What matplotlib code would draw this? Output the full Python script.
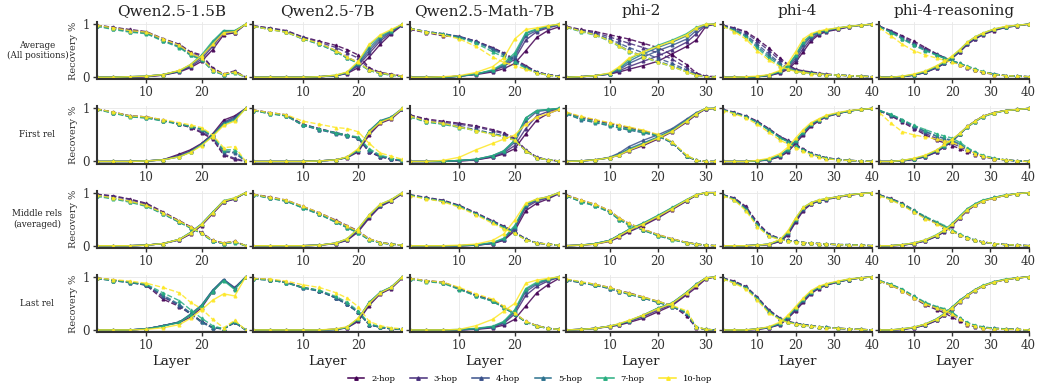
import numpy as np
import matplotlib
matplotlib.use('Agg')
import matplotlib.pyplot as plt
from matplotlib.lines import Line2D

plt.rcParams['font.family'] = ['DejaVu Serif']

MODELS = ['Qwen2.5-1.5B', 'Qwen2.5-7B', 'Qwen2.5-Math-7B', 'phi-2', 'phi-4', 'phi-4-reasoning']
ROW_LABELS = ['Average\n(All positions)', 'First rel', 'Middle rels\n(averaged)', 'Last rel']
HOPS = [2, 3, 4, 5, 7, 10]

L28 = [1, 4, 7, 10, 13, 16, 18, 20, 22, 24, 26, 28]
L32 = [1, 4, 7, 10, 12, 14, 17, 20, 23, 26, 28, 30, 32]
L40 = [1, 4, 7, 10, 13, 16, 18, 20, 22, 24, 26, 28, 31, 34, 37, 40]

# ---- Qwen2.5-1.5B ----
Q15_AVG_UP = [[0,0,0,1,4,10,18,30,52,80,84,100],
              [0,0,0,1,4,11,20,34,58,84,83,100],
              [0,0,1,2,5,12,22,38,62,86,86,100],
              [0,0,1,2,5,12,23,40,65,88,87,100],
              [0,0,1,2,5,12,24,42,68,88,88,100],
              [0,0,1,2,5,13,24,40,62,84,86,100]]
Q15_AVG_DN = [[98,94,90,86,73,62,48,42,18,6,12,0],
              [98,94,89,85,72,61,46,40,16,6,11,0],
              [97,92,87,84,70,58,44,36,14,5,10,0],
              [97,91,86,83,69,57,42,34,12,5,9,0],
              [96,90,85,82,68,56,41,33,12,4,8,0],
              [98,93,88,85,72,60,45,36,14,6,10,0]]
Q15_FIRST_UP = [[0,0,0,1,3,14,22,34,52,78,86,100],
                [0,0,0,1,3,12,20,33,50,74,84,100],
                [0,0,0,1,3,10,19,32,50,72,82,100],
                [0,0,0,1,3,9,18,32,50,72,80,100],
                [0,0,0,1,3,9,18,31,48,70,78,100],
                [0,0,0,1,3,9,17,30,47,68,76,100]]
Q15_FIRST_DN = [[99,93,86,84,78,70,64,54,42,12,4,0],
                [99,93,86,84,78,70,65,56,44,14,6,0],
                [98,92,85,83,77,71,66,60,46,18,16,0],
                [98,92,85,82,77,71,66,61,47,20,18,0],
                [98,91,84,82,76,70,66,62,48,22,22,0],
                [99,93,86,84,79,73,69,64,50,26,28,0]]
Q15_MID_UP = [[0,0,0,1,4,11,22,38,60,82,88,100],
              [0,0,0,1,4,11,23,39,61,83,88,100],
              [0,0,0,1,4,12,24,40,62,84,89,100],
              [0,0,0,1,4,12,25,41,63,84,89,100],
              [0,0,0,1,4,12,25,41,63,85,90,100],
              [0,0,0,1,4,12,24,40,62,84,90,100]]
Q15_MID_DN = [[97,94,88,80,64,47,36,25,10,5,8,0],
              [97,93,87,78,62,46,35,24,10,5,8,0],
              [95,90,84,76,61,45,34,24,9,4,7,0],
              [94,89,83,75,60,44,34,23,9,4,7,0],
              [93,88,82,74,60,44,33,23,8,4,6,0],
              [95,90,84,76,62,46,35,24,10,5,8,0]]
Q15_LAST_UP = [[0,0,0,2,8,14,24,42,72,94,78,100],
               [0,0,0,2,8,15,28,45,74,95,80,100],
               [0,0,0,2,8,15,29,46,74,95,78,100],
               [0,0,0,2,8,15,30,47,75,95,78,100],
               [0,0,0,2,7,14,28,45,72,93,76,100],
               [0,0,0,1,4,10,22,38,56,68,64,100]]
Q15_LAST_DN = [[98,94,90,84,58,44,30,16,4,2,14,0],
               [98,94,90,85,62,46,32,16,5,2,15,0],
               [97,93,89,85,64,46,30,14,4,2,14,0],
               [97,93,89,85,66,48,32,15,4,2,14,0],
               [97,93,90,86,70,55,38,22,8,2,16,0],
               [98,95,92,88,80,70,52,40,20,4,18,0]]

# ---- Qwen2.5-7B ----
Q7_AVG_UP = [[0,0,0,0,1,3,7,18,38,62,82,98],
             [0,0,0,0,1,3,8,22,45,68,84,99],
             [0,0,0,0,1,3,8,24,50,72,86,99],
             [0,0,0,0,1,3,9,26,55,75,87,100],
             [0,0,0,0,1,4,9,28,60,78,88,100],
             [0,0,0,0,1,4,10,30,62,80,90,100]]
Q7_AVG_DN = [[97,93,88,76,68,60,52,42,18,9,6,2],
             [97,92,87,75,66,56,46,36,16,8,5,2],
             [96,91,86,74,64,50,38,28,14,8,5,1],
             [96,90,85,72,62,48,36,27,13,7,4,1],
             [96,90,85,72,62,48,36,26,13,7,4,1],
             [96,90,85,73,64,50,38,28,14,8,5,2]]
Q7_FIRST_UP = [[0,0,0,0,1,3,7,18,50,72,80,98],
               [0,0,0,0,1,3,8,20,53,74,82,99],
               [0,0,0,0,1,3,8,21,56,76,83,99],
               [0,0,0,0,1,3,8,22,58,77,84,100],
               [0,0,0,0,1,3,8,22,57,76,83,100],
               [0,0,0,0,1,3,9,24,55,74,82,100]]
Q7_FIRST_DN = [[97,92,88,70,62,54,50,44,18,9,4,1],
               [97,92,87,70,61,54,49,44,18,9,4,1],
               [96,91,86,68,60,52,48,44,20,10,5,1],
               [96,90,86,68,60,53,48,45,22,10,5,2],
               [96,90,86,69,61,54,50,46,24,12,6,2],
               [97,92,88,76,70,64,62,56,34,16,10,4]]
Q7_MID_UP = [[0,0,0,0,1,4,10,26,52,74,84,98],
             [0,0,0,0,1,4,11,28,54,75,85,99],
             [0,0,0,0,1,5,12,30,56,76,86,99],
             [0,0,0,0,1,5,12,31,57,77,86,100],
             [0,0,0,0,1,5,13,32,58,78,87,100],
             [0,0,0,0,1,5,13,32,58,78,87,100]]
Q7_MID_DN = [[97,92,86,74,62,48,38,28,13,6,3,1],
             [97,91,85,73,61,46,36,26,12,6,3,1],
             [96,90,84,72,60,45,35,25,12,6,3,1],
             [96,90,84,71,59,44,34,24,11,5,3,1],
             [96,89,84,71,59,44,34,24,11,5,3,1],
             [97,91,86,74,62,47,37,27,13,6,3,1]]
Q7_LAST_UP = [[0,0,0,0,0,1,4,16,46,68,78,98],
              [0,0,0,0,0,1,4,18,48,69,79,99],
              [0,0,0,0,0,1,5,20,50,70,80,99],
              [0,0,0,0,0,1,5,21,52,71,81,100],
              [0,0,0,0,0,1,5,21,52,71,81,100],
              [0,0,0,0,0,2,6,22,50,70,80,100]]
Q7_LAST_DN = [[97,95,90,80,74,60,48,34,10,5,2,1],
              [97,95,90,80,74,61,49,34,10,5,2,1],
              [96,94,89,79,73,60,48,33,10,5,2,1],
              [96,94,89,79,73,60,48,33,10,5,2,1],
              [96,94,89,80,75,63,52,36,12,6,3,1],
              [97,96,92,85,80,70,60,44,16,8,4,2]]

# ---- Qwen2.5-Math-7B ----
QM_AVG_UP = [[0,0,0,2,5,10,16,26,50,75,88,95],
             [0,0,0,2,6,12,20,34,70,86,93,98],
             [0,0,0,2,6,12,22,38,78,88,95,99],
             [0,0,0,2,6,13,24,42,82,90,96,100],
             [0,0,0,2,6,14,26,46,84,91,96,100],
             [0,0,1,3,9,20,36,72,90,93,97,100]]
QM_AVG_DN = [[90,84,78,76,68,56,46,34,22,10,5,2],
             [92,86,82,77,68,55,45,32,20,10,5,2],
             [92,86,82,76,67,54,44,31,19,9,5,2],
             [92,86,82,76,66,52,42,30,18,9,4,1],
             [92,85,81,74,64,48,38,28,17,8,4,1],
             [92,85,80,72,58,38,28,22,15,8,4,1]]
QM_FIRST_UP = [[0,0,0,1,3,8,14,24,52,78,90,98],
               [0,0,0,1,3,9,16,30,62,86,94,99],
               [0,0,0,2,4,10,18,36,76,94,97,100],
               [0,0,0,2,4,11,20,40,82,96,98,100],
               [0,0,0,2,4,11,20,40,82,96,98,100],
               [0,0,2,8,22,34,42,50,70,84,90,98]]
QM_FIRST_DN = [[88,80,76,72,67,60,54,44,22,8,3,1],
               [87,78,74,70,65,58,52,42,21,8,3,1],
               [86,76,72,66,60,53,48,40,20,7,3,1],
               [85,75,71,65,59,52,47,40,20,7,3,1],
               [84,74,70,64,58,52,47,40,20,7,3,1],
               [86,76,72,65,58,51,46,40,20,7,3,1]]
QM_MID_UP = [[0,0,0,0,1,4,10,28,66,80,88,98],
             [0,0,0,0,1,4,11,32,72,84,90,99],
             [0,0,0,0,1,5,12,34,75,86,91,99],
             [0,0,0,0,1,5,13,36,77,87,92,100],
             [0,0,0,0,2,6,14,38,78,88,92,100],
             [0,0,0,1,3,10,22,48,80,88,92,100]]
QM_MID_DN = [[96,91,86,76,62,47,37,26,13,5,3,1],
             [96,90,85,75,61,46,36,25,12,5,3,1],
             [95,90,85,75,60,45,35,25,12,5,3,1],
             [95,89,84,74,60,45,35,24,12,5,3,1],
             [95,89,84,74,60,44,34,24,11,5,3,1],
             [94,88,83,72,58,42,32,23,11,5,3,1]]
QM_LAST_UP = [[0,0,0,0,1,4,9,20,45,70,85,97],
              [0,0,0,0,2,5,12,30,65,82,92,99],
              [0,0,0,0,2,6,14,34,72,86,94,99],
              [0,0,0,0,2,6,15,36,76,88,95,100],
              [0,0,0,1,3,7,16,38,78,90,96,100],
              [0,0,0,1,8,20,35,50,88,94,97,100]]
QM_LAST_DN = [[97,93,90,78,66,56,44,31,16,8,3,1],
              [97,92,90,78,65,55,43,30,15,8,3,1],
              [96,92,89,77,65,55,42,30,15,8,3,1],
              [96,92,89,77,64,54,42,30,15,7,3,1],
              [96,91,88,76,64,54,42,30,15,7,3,1],
              [97,93,90,80,68,58,45,32,16,8,3,1]]

# ---- phi-2 ----
P2_AVG_UP = [[0,1,3,6,10,15,22,30,44,58,70,96,100],
             [0,1,3,6,12,20,30,40,52,66,82,98,100],
             [0,1,3,6,14,26,38,50,60,72,88,99,100],
             [0,1,3,7,16,30,44,56,66,78,92,99,100],
             [0,1,3,7,18,34,48,60,70,82,94,100,100],
             [0,1,3,8,20,36,48,58,68,80,93,100,100]]
P2_AVG_DN = [[96,90,86,80,76,72,64,56,42,24,8,2,1],
             [95,89,84,76,70,64,56,46,34,18,6,2,1],
             [95,88,82,72,64,56,46,36,26,14,5,1,1],
             [94,87,80,70,60,50,40,30,22,12,4,1,0],
             [94,86,79,68,58,48,38,28,20,10,4,1,0],
             [95,87,80,69,59,49,39,29,20,10,4,1,0]]
P2_FIRST_UP = [[0,1,3,7,12,20,30,42,56,74,88,99,100],
               [0,1,3,7,13,22,33,45,58,76,90,99,100],
               [0,1,3,8,16,28,40,50,62,80,92,100,100],
               [0,1,3,7,14,24,35,46,60,78,91,100,100],
               [0,1,3,7,13,22,33,45,58,77,90,100,100],
               [0,1,3,7,12,21,32,44,57,76,90,100,100]]
P2_FIRST_DN = [[92,84,78,72,68,64,58,50,36,10,2,0,0],
               [92,83,77,71,67,63,57,49,36,10,2,0,0],
               [90,80,74,68,64,60,55,48,35,10,2,0,0],
               [90,79,73,67,63,59,54,48,35,10,2,0,0],
               [91,81,75,69,65,61,56,49,36,11,2,0,0],
               [93,85,79,73,69,65,59,51,37,12,2,0,0]]
P2_MID_UP = [[0,1,3,8,16,26,38,52,68,84,95,100,100],
             [0,1,3,9,18,28,40,54,70,85,95,100,100],
             [0,1,4,10,20,30,42,56,71,86,96,100,100],
             [0,1,4,10,20,30,42,56,71,86,96,100,100],
             [0,1,4,10,20,31,43,57,72,87,96,100,100],
             [0,1,3,9,19,29,41,55,70,86,96,100,100]]
P2_MID_DN = [[96,86,78,66,52,42,31,21,13,6,3,1,0],
             [95,85,77,65,51,41,30,20,12,6,3,1,0],
             [94,84,76,64,50,40,30,20,12,6,3,1,0],
             [94,83,75,63,49,39,29,19,12,6,3,1,0],
             [94,83,75,63,49,39,29,19,11,5,3,1,0],
             [95,86,78,66,52,42,31,21,13,6,3,1,0]]
P2_LAST_UP = [[0,1,3,6,9,14,22,34,46,66,80,96,100],
              [0,1,3,7,10,16,25,37,48,68,84,97,100],
              [0,1,3,7,11,17,27,40,50,70,86,98,100],
              [0,1,3,7,11,17,28,41,51,71,86,98,100],
              [0,1,3,7,11,17,28,41,51,71,86,98,100],
              [0,1,3,7,12,18,28,40,50,70,85,98,100]]
P2_LAST_DN = [[95,90,86,80,74,70,62,54,46,26,4,1,0],
              [95,90,85,79,73,69,61,53,45,30,5,1,0],
              [94,89,84,78,72,68,60,52,44,32,5,1,0],
              [94,89,84,78,72,67,60,52,44,32,5,1,0],
              [95,90,85,79,73,68,61,53,45,34,6,1,0],
              [96,91,86,80,74,69,62,54,46,36,6,1,0]]

# ---- phi-4 ----
P4_AVG_UP = [[0,0,0,1,3,8,15,28,48,68,80,86,90,95,98,100],
             [0,0,0,1,3,9,17,32,54,72,82,87,91,95,98,100],
             [0,0,0,1,4,10,19,36,60,76,84,88,92,96,98,100],
             [0,0,0,1,4,11,21,40,64,78,85,88,92,96,98,100],
             [0,0,0,1,4,11,22,42,67,80,86,89,93,96,98,100],
             [0,0,1,2,5,13,26,48,72,82,87,90,93,96,98,100]]
P4_AVG_DN = [[98,93,86,72,55,36,24,15,12,10,8,6,4,3,2,1],
             [98,92,84,68,50,32,22,14,11,9,7,6,4,3,2,1],
             [97,90,80,62,44,26,18,13,10,8,7,5,4,3,2,1],
             [97,89,78,58,40,24,17,12,10,8,6,5,4,3,2,1],
             [96,88,76,55,36,22,16,12,9,8,6,5,4,3,2,1],
             [96,86,72,50,32,20,15,11,9,7,6,5,4,3,2,1]]
P4_FIRST_UP = [[0,0,0,1,3,9,18,34,50,66,76,84,90,95,98,100],
               [0,0,0,1,3,10,20,36,52,68,77,85,90,95,98,100],
               [0,0,0,1,4,11,21,38,54,70,78,85,91,95,98,100],
               [0,0,0,1,4,12,22,39,55,70,78,85,91,95,98,100],
               [0,0,0,1,4,12,23,40,56,71,79,86,91,95,98,100],
               [0,0,0,2,6,15,27,44,60,73,80,87,92,96,98,100]]
P4_FIRST_DN = [[98,93,86,76,62,47,40,32,24,16,11,7,4,2,1,0],
               [97,92,85,75,61,46,39,31,23,16,11,7,4,2,1,0],
               [97,92,85,74,60,45,38,30,22,15,10,6,4,2,1,0],
               [97,91,84,74,60,45,38,30,22,15,10,6,4,2,1,0],
               [97,91,84,73,59,44,37,29,21,15,10,6,3,2,1,0],
               [96,90,82,70,55,40,33,26,19,13,9,5,3,2,1,0]]
P4_MID_UP = [[0,0,0,1,2,8,20,44,66,78,84,87,91,95,98,100],
             [0,0,0,1,2,9,22,46,68,79,84,88,92,95,98,100],
             [0,0,0,1,3,10,24,48,70,80,85,88,92,96,98,100],
             [0,0,0,1,3,10,25,50,71,80,85,88,92,96,98,100],
             [0,0,0,1,3,11,26,51,72,81,86,89,92,96,98,100],
             [0,0,0,1,3,12,28,52,72,81,86,89,92,96,98,100]]
P4_MID_DN = [[96,90,74,44,22,13,10,8,6,5,4,3,2,2,1,0],
             [96,89,72,42,21,13,10,8,6,5,4,3,2,2,1,0],
             [95,88,70,40,20,12,10,8,6,5,4,3,2,2,1,0],
             [95,88,70,40,20,12,10,8,6,5,4,3,2,2,1,0],
             [95,87,68,38,19,12,9,7,6,5,4,3,2,2,1,0],
             [94,86,66,36,18,11,9,7,6,5,4,3,2,1,1,0]]
P4_LAST_UP = [[0,0,0,1,4,10,22,36,52,68,78,84,90,95,98,100],
              [0,0,0,1,4,11,23,38,54,69,79,85,90,95,98,100],
              [0,0,0,2,5,12,24,40,56,70,80,85,91,95,98,100],
              [0,0,0,2,5,12,25,41,57,71,80,86,91,95,98,100],
              [0,0,0,2,5,13,26,42,58,72,81,86,91,96,98,100],
              [0,0,0,2,6,15,28,44,60,74,82,87,92,96,98,100]]
P4_LAST_DN = [[98,92,82,62,38,22,16,13,10,8,6,5,3,2,1,0],
              [97,91,81,61,37,21,16,12,10,8,6,5,3,2,1,0],
              [97,90,80,60,35,20,15,12,10,8,6,5,3,2,1,0],
              [97,90,80,60,35,20,15,12,10,8,6,5,3,2,1,0],
              [96,89,79,58,34,20,15,12,9,7,6,5,3,2,1,0],
              [96,88,77,56,32,19,14,11,9,7,6,4,3,2,1,0]]

# ---- phi-4-reasoning ----
P4R_AVG_UP = [[0,0,1,4,9,18,26,36,48,62,72,80,88,94,97,100],
              [0,0,1,4,9,18,26,36,48,62,73,81,89,94,97,100],
              [0,0,1,4,10,19,27,37,50,64,74,82,90,95,98,100],
              [0,0,1,5,10,20,28,38,51,65,75,82,90,95,98,100],
              [0,0,2,5,11,21,29,39,52,66,76,83,91,95,98,100],
              [0,0,2,6,12,22,30,40,52,66,76,83,91,96,98,100]]
P4R_AVG_DN = [[96,88,78,68,56,44,37,30,24,18,13,9,5,3,2,1],
              [96,87,76,65,54,43,37,31,25,19,14,10,6,3,2,1],
              [95,86,74,62,52,42,36,31,26,20,15,10,6,3,2,1],
              [95,85,73,61,51,42,36,31,26,20,15,10,6,3,2,1],
              [95,84,72,60,50,41,36,31,26,21,16,11,6,3,2,1],
              [93,78,62,50,42,36,32,28,24,19,14,10,5,3,2,1]]
P4R_FIRST_UP = [[0,0,1,4,9,18,28,38,52,66,76,85,92,96,98,100],
                [0,0,1,4,9,18,28,38,51,65,75,84,92,96,98,100],
                [0,0,1,5,10,20,30,40,52,66,76,85,92,96,98,100],
                [0,0,2,5,11,21,31,41,53,66,76,85,92,96,98,100],
                [0,0,2,5,11,21,30,40,52,65,75,84,91,96,98,100],
                [0,0,2,6,12,22,32,42,53,66,76,85,92,96,98,100]]
P4R_FIRST_DN = [[95,86,74,62,50,40,35,30,24,18,13,9,5,3,1,0],
                [96,87,76,64,53,43,39,34,28,21,15,10,5,3,1,0],
                [96,88,78,66,56,47,43,38,31,23,16,10,5,3,1,0],
                [96,88,78,67,57,48,44,40,33,24,17,11,6,3,1,0],
                [96,89,79,68,60,52,48,44,36,26,18,12,6,3,1,0],
                [92,72,56,50,46,42,39,36,30,22,15,10,5,3,1,0]]
P4R_MID_UP = [[0,0,1,4,9,18,26,38,52,66,76,84,90,95,98,100],
              [0,0,1,4,9,18,27,39,53,67,77,84,90,95,98,100],
              [0,0,1,5,10,19,28,40,54,68,78,85,91,95,98,100],
              [0,0,2,5,10,20,29,41,55,69,78,85,91,95,98,100],
              [0,0,2,5,11,21,30,42,56,70,79,86,91,96,98,100],
              [0,0,2,5,11,20,29,40,54,68,77,84,90,95,98,100]]
P4R_MID_DN = [[96,89,80,67,54,43,36,28,20,15,10,7,4,2,1,0],
              [96,88,79,66,53,42,35,28,20,15,10,7,4,2,1,0],
              [95,88,78,65,52,42,35,28,20,15,10,7,4,2,1,0],
              [95,87,77,64,52,42,35,28,21,15,10,7,4,2,1,0],
              [95,88,79,67,55,45,38,30,22,16,11,7,4,2,1,0],
              [94,86,76,63,51,41,34,27,20,14,10,7,4,2,1,0]]
P4R_LAST_UP = [[0,0,1,4,9,18,28,40,54,65,75,83,90,95,98,100],
               [0,0,1,4,9,18,28,40,53,64,74,82,90,95,98,100],
               [0,0,1,5,10,20,30,42,55,66,76,83,90,95,98,100],
               [0,0,2,5,11,21,31,43,56,66,76,83,91,95,98,100],
               [0,0,2,5,11,21,31,43,56,66,76,84,91,96,98,100],
               [0,0,2,5,11,20,30,42,54,65,75,83,90,95,98,100]]
P4R_LAST_DN = [[92,84,74,60,47,38,32,24,16,10,6,4,2,1,1,0],
               [92,85,75,62,49,41,36,29,20,12,8,5,3,2,1,0],
               [93,85,76,63,50,42,38,31,22,13,8,5,3,2,1,0],
               [93,86,76,63,51,43,39,32,22,13,8,5,3,2,1,0],
               [93,86,77,64,52,44,40,33,23,14,9,6,3,2,1,0],
               [92,84,74,61,49,41,37,30,20,12,7,4,2,1,1,0]]

LAYERS = [L28, L28, L28, L32, L40, L40]
N_LAYERS = [28, 28, 28, 32, 40, 40]
XTICKS = [[10, 20], [10, 20], [10, 20], [10, 20, 30], [10, 20, 30, 40], [10, 20, 30, 40]]

UP = [[Q15_AVG_UP, Q7_AVG_UP, QM_AVG_UP, P2_AVG_UP, P4_AVG_UP, P4R_AVG_UP],
      [Q15_FIRST_UP, Q7_FIRST_UP, QM_FIRST_UP, P2_FIRST_UP, P4_FIRST_UP, P4R_FIRST_UP],
      [Q15_MID_UP, Q7_MID_UP, QM_MID_UP, P2_MID_UP, P4_MID_UP, P4R_MID_UP],
      [Q15_LAST_UP, Q7_LAST_UP, QM_LAST_UP, P2_LAST_UP, P4_LAST_UP, P4R_LAST_UP]]
DN = [[Q15_AVG_DN, Q7_AVG_DN, QM_AVG_DN, P2_AVG_DN, P4_AVG_DN, P4R_AVG_DN],
      [Q15_FIRST_DN, Q7_FIRST_DN, QM_FIRST_DN, P2_FIRST_DN, P4_FIRST_DN, P4R_FIRST_DN],
      [Q15_MID_DN, Q7_MID_DN, QM_MID_DN, P2_MID_DN, P4_MID_DN, P4R_MID_DN],
      [Q15_LAST_DN, Q7_LAST_DN, QM_LAST_DN, P2_LAST_DN, P4_LAST_DN, P4R_LAST_DN]]

colors = [plt.cm.viridis((h - 2) / 8) for h in HOPS]
spine_c = '#333333'

fig, axes = plt.subplots(4, 6, figsize=(10.39, 3.87), dpi=100)
fig.subplots_adjust(left=0.093, right=0.99, top=0.943, bottom=0.142,
                    wspace=0.05, hspace=0.47)

for r in range(4):
    for c in range(6):
        ax = axes[r, c]
        x = LAYERS[c]
        for k in range(len(HOPS)):
            ax.plot(x, np.array(UP[r][c][k]) / 100, '-', color=colors[k], lw=1.0,
                    marker='^', ms=2.0, alpha=0.85)
            ax.plot(x, np.array(DN[r][c][k]) / 100, '--', color=colors[k], lw=1.0,
                    marker='^', ms=2.0, alpha=0.85)
        ax.set_xlim(1, N_LAYERS[c])
        ax.set_ylim(-0.04, 1.04)
        ax.set_xticks(XTICKS[c])
        ax.set_yticks([0, 1])
        ax.grid(True, color='#e8e8e8', lw=0.6)
        ax.set_axisbelow(True)
        for s in ['top', 'right']:
            ax.spines[s].set_visible(False)
        for s in ['left', 'bottom']:
            ax.spines[s].set_color(spine_c)
            ax.spines[s].set_linewidth(1.5)
        ax.tick_params(colors=spine_c, labelsize=8.5, length=3, width=1, pad=2)
        if c == 0:
            ax.set_yticklabels(['0', '1'])
            ax.set_ylabel('Recovery %', fontsize=7, color=spine_c, labelpad=3)
        else:
            ax.set_yticklabels([])
        if r == 0:
            ax.set_title(MODELS[c], fontsize=11, color='#222222', pad=5)
        if r == 3:
            ax.set_xlabel('Layer', fontsize=9.5, color='#222222', labelpad=2)
    pos = axes[r, 0].get_position()
    fig.text(0.036, (pos.y0 + pos.y1) / 2, ROW_LABELS[r], ha='center', va='center',
             fontsize=6.3, color='#222222')

handles = [Line2D([0], [0], color=colors[k], lw=1.1, marker='^', ms=2.5)
           for k in range(len(HOPS))]
fig.legend(handles, ['%d-hop' % h for h in HOPS], loc='lower center',
           bbox_to_anchor=(0.51, -0.01), ncol=6, frameon=False, fontsize=6,
           handlelength=2.0, columnspacing=1.8)

fig.savefig('out.png', dpi=100)
